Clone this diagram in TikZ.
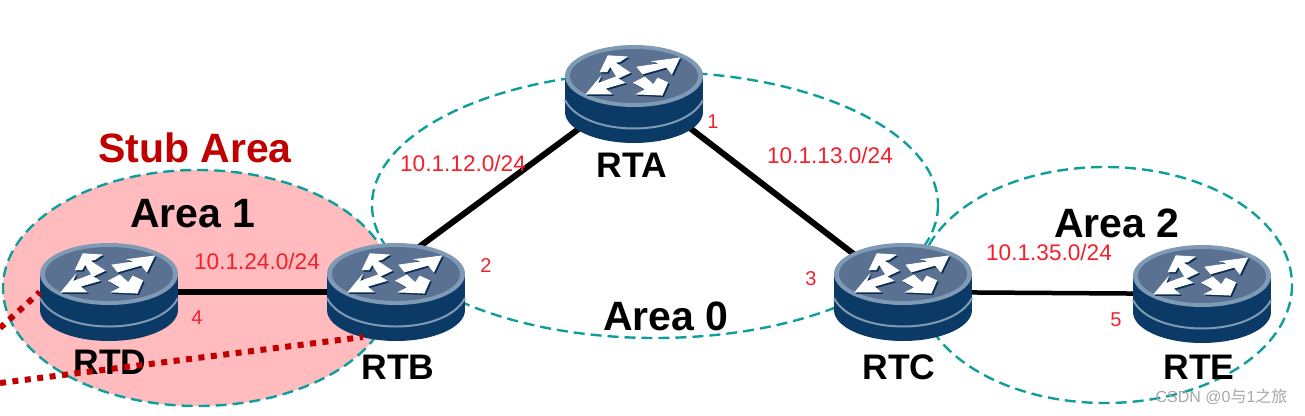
\documentclass[tikz,border=0pt]{standalone}
\usepackage{fontspec}
\setmainfont{Liberation Sans}
\newfontfamily\cjk{Noto Sans CJK SC}
\definecolor{areateal}{HTML}{0E9F9B}
\definecolor{stubpink}{HTML}{FFBBBD}
\definecolor{stubred}{HTML}{C00000}
\definecolor{netred}{HTML}{F0202C}
\definecolor{routerbody}{HTML}{0C3A66}
\definecolor{routertop}{HTML}{5A7191}
\definecolor{routerrim}{HTML}{7F9AB4}
\definecolor{marksgray}{HTML}{A8A8A8}
\tikzset{
    routernode/.style={minimum width=138pt, minimum height=98pt, inner sep=0pt},
    arealine/.style={areateal, line width=2.4pt, dash pattern=on 11pt off 6pt},
    linkline/.style={black, line width=6pt},
    stubline/.style={stubred, line width=6pt, dash pattern=on 6pt off 6.5pt},
    namelabel/.style={font=\fontsize{35.5}{40}\bfseries\selectfont},
    arealabel/.style={font=\fontsize{41}{46}\bfseries\selectfont},
    netlabel/.style={netred, font=\fontsize{22.6}{26}\selectfont},
    costlabel/.style={netred, font=\fontsize{20}{24}\selectfont},
    % four-way arrows sit on the upper disc, coordinates taken around its middle
    routerarrows/.pic={
        \filldraw[pic actions, line width=1pt] (-24,-18) -- (-7,-17) -- (-13,-13) -- (-18,-12) -- (-4,-3) -- (-15,2) -- (-22,-9) -- (-25,-4) -- (-31,-4) -- cycle;
        \filldraw[pic actions, line width=1pt] (42,-16) -- (18,-13) -- (25,-11) -- (3,-8) -- (8,-2) -- (30,-8) -- (35,-2) -- cycle;
        \filldraw[pic actions, line width=1pt] (-44,16) -- (-21,16) -- (-27,11) -- (-9,6) -- (-17,1) -- (-34,7) -- (-32,2) -- cycle;
        \filldraw[pic actions, line width=1pt] (26,17) -- (3,16) -- (11,12) -- (0,6) -- (10,1) -- (18,8) -- (22,2) -- (31,6) -- cycle;
    },
    routerpic/.pic={
        % body
        \fill[routerbody] (-69,-18) rectangle (69,18);
        \fill[routerbody] (0,18) ellipse (69 and 31);
        % band round the body
        \draw[routerrim, line width=2pt] (-69,6) .. controls (-50,44) and (50,44) .. (69,6);
        % upper disc
        \fill[routerrim] (0,-18) ellipse (69 and 31);
        \fill[routertop] (0,-18) ellipse (64 and 27);
        \pic[routerbody!80!black, xshift=1.5pt, yshift=-1.5pt, xscale=1.08, yscale=1.12] at (0,-18) {routerarrows};
        \pic[white, xscale=1.08, yscale=1.12] at (0,-18) {routerarrows};
    },
}
\begin{document}
\begin{tikzpicture}[x=1pt, y=-1pt]
    \useasboundingbox (0,0) rectangle (1305,415);

    % --- Routers (positions) ---
    \node[routernode] (RTA) at (634,94) {};
    \node[routernode] (RTB) at (396,292) {};
    \node[routernode] (RTC) at (903,292) {};
    \node[routernode] (RTD) at (109,292) {};
    \node[routernode] (RTE) at (1202,294) {};
    \coordinate (stubfar1) at (0,328);
    \coordinate (stubfar2) at (0,383);

    % --- Areas ---
    \fill[stubpink] (198,288) ellipse (195 and 118);
    \draw[arealine] (198,288) ellipse (195 and 118);
    \draw[arealine] (655,205) ellipse (283 and 133);
    \draw[arealine] (1105,285) ellipse (187 and 118);

    % --- Links ---
    \draw[linkline] ([yshift=6pt]RTA.center) -- ([yshift=28pt]RTB.center);
    \draw[linkline] ([yshift=9pt]RTA.center) -- (RTC.center);
    \draw[linkline] (RTD.center) -- (RTB.center);
    \draw[linkline, line width=4.5pt] (RTC.center) -- (RTE.center);

    % --- Routers (drawing) ---
    \foreach \r in {RTA,RTB,RTC,RTD,RTE}
        \pic at (\r.center) {routerpic};

    % --- Names ---
    \node[namelabel] (nameRTA) at (632,165) {RTA};
    \node[namelabel] (nameRTB) at (398,367) {RTB};
    \node[namelabel] (nameRTC) at (899,367) {RTC};
    \node[namelabel] (nameRTD) at (110,362) {RTD};
    \node[namelabel] (nameRTE) at (1199,367) {RTE};

    \node[arealabel, stubred] (stub) at (195,148) {Stub Area};
    \node[arealabel] (area1) at (193,214) {Area 1};
    \node[arealabel] (area2) at (1117,223) {Area 2};
    \node[arealabel] (area0) at (666,316) {Area 0};

    % --- Networks and costs ---
    \node[netlabel] (net12) at (463,163) {10.1.12.0/24};
    \node[netlabel] (net13) at (830,155) {10.1.13.0/24};
    \node[netlabel] (net24) at (257,261) {10.1.24.0/24};
    \node[netlabel] (net35) at (1049,252) {10.1.35.0/24};
    \node[costlabel] (cost1) at (713,122) {1};
    \node[costlabel] (cost2) at (486,266) {2};
    \node[costlabel] (cost3) at (811,279) {3};
    \node[costlabel] (cost4) at (197,318) {4};
    \node[costlabel] (cost5) at (1116,320) {5};

    % --- Dotted lines leaving the stub area ---
    \draw[stubline] (stubfar1) -- (RTD.west);
    \draw[stubline] (stubfar2) -- ([xshift=-33pt,yshift=-45pt]RTB.center);

    % --- Corner mark ---
    \node[marksgray, anchor=east, font=\fontsize{16}{19}\selectfont] (mark) at (1291,397) {CSDN @0{\cjk 与}1{\cjk 之旅}};
\end{tikzpicture}
\end{document}
